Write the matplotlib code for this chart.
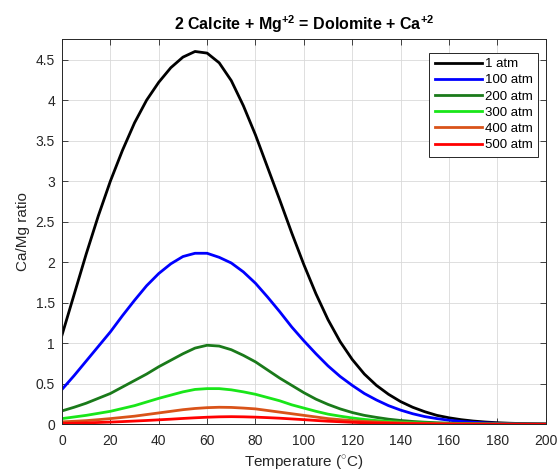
import numpy as np
import matplotlib.pyplot as plt

plt.rcParams["font.family"] = ["Liberation Sans", "DejaVu Sans"]
plt.rcParams["mathtext.fontset"] = "custom"
plt.rcParams["mathtext.rm"] = "Liberation Sans"
plt.rcParams["mathtext.bf"] = "Liberation Sans:bold"

# Temperature grid (deg C)
temperature = np.arange(0, 201, 5)

ratio_1atm = [1.10, 1.60, 2.10, 2.57, 3.00, 3.38, 3.72, 4.00, 4.22, 4.40, 4.53,
              4.60, 4.58, 4.46, 4.24, 3.93, 3.57, 3.17, 2.77, 2.36, 1.97, 1.61,
              1.29, 1.02, 0.80, 0.62, 0.48, 0.37, 0.28, 0.21, 0.155, 0.11, 0.08,
              0.057, 0.04, 0.028, 0.019, 0.013, 0.009, 0.006, 0.004]
ratio_100atm = [0.43, 0.60, 0.78, 0.96, 1.14, 1.34, 1.53, 1.71, 1.86, 1.98, 2.07,
                2.11, 2.11, 2.06, 1.99, 1.88, 1.74, 1.57, 1.39, 1.20, 1.03, 0.87,
                0.72, 0.59, 0.48, 0.38, 0.30, 0.23, 0.175, 0.13, 0.095, 0.07, 0.05,
                0.035, 0.025, 0.017, 0.012, 0.008, 0.005, 0.0035, 0.0025]
ratio_200atm = [0.165, 0.21, 0.26, 0.32, 0.38, 0.46, 0.54, 0.62, 0.71, 0.79, 0.87,
                0.94, 0.975, 0.965, 0.92, 0.85, 0.77, 0.67, 0.57, 0.48, 0.39, 0.31,
                0.245, 0.19, 0.145, 0.11, 0.085, 0.063, 0.047, 0.035, 0.026, 0.019,
                0.014, 0.01, 0.007, 0.005, 0.0035, 0.0025, 0.0018, 0.0013, 0.001]
ratio_300atm = [0.07, 0.09, 0.11, 0.135, 0.16, 0.195, 0.23, 0.275, 0.32, 0.36, 0.40,
                0.43, 0.44, 0.44, 0.425, 0.40, 0.37, 0.33, 0.29, 0.24, 0.20, 0.16,
                0.125, 0.10, 0.078, 0.06, 0.046, 0.035, 0.027, 0.02, 0.015, 0.011,
                0.008, 0.006, 0.0045, 0.0033, 0.0025, 0.0018, 0.0013, 0.001, 0.0007]
ratio_400atm = [0.03, 0.037, 0.045, 0.057, 0.07, 0.085, 0.10, 0.12, 0.14, 0.16, 0.18,
                0.195, 0.205, 0.21, 0.208, 0.20, 0.19, 0.17, 0.15, 0.13, 0.11, 0.09,
                0.07, 0.057, 0.045, 0.035, 0.028, 0.022, 0.017, 0.013, 0.01, 0.0075,
                0.0055, 0.004, 0.003, 0.0022, 0.0016, 0.0012, 0.0009, 0.0006, 0.0004]
ratio_500atm = [0.01, 0.013, 0.017, 0.022, 0.027, 0.033, 0.04, 0.047, 0.055, 0.063,
                0.072, 0.08, 0.087, 0.092, 0.094, 0.092, 0.088, 0.082, 0.075, 0.066,
                0.057, 0.047, 0.038, 0.031, 0.024, 0.019, 0.015, 0.012, 0.009, 0.007,
                0.005, 0.004, 0.003, 0.0022, 0.0016, 0.0012, 0.0009, 0.0006, 0.0004,
                0.0003, 0.0002]

labels = ["1 atm", "100 atm", "200 atm", "300 atm", "400 atm", "500 atm"]
colors = ["#000000", "#0000ff", "#1a7a1a", "#19e619", "#d95319", "#ff0000"]
series = [ratio_1atm, ratio_100atm, ratio_200atm, ratio_300atm, ratio_400atm, ratio_500atm]

gray = "#262626"

fig = plt.figure(figsize=(5.6, 4.72), dpi=100)
ax = fig.add_axes([0.1107, 0.1011, 0.8638, 0.8156])
for ratio, lab, c in zip(series, labels, colors):
    ax.plot(temperature, ratio, "-", color=c, lw=2, label=lab)

ax.set_xlim(0, 200)
ax.set_ylim(0, 4.75)
ax.set_xticks(np.arange(0, 201, 20))
yt = np.arange(0, 4.51, 0.5)
ax.set_yticks(yt)
ax.set_yticklabels(["%g" % v for v in yt])
ax.grid(True, color="#d9d9d9", lw=0.6)
ax.set_axisbelow(True)
ax.tick_params(direction="in", length=4, width=0.6, top=True, right=True,
               labelsize=10, colors=gray, pad=5)
ax.tick_params(axis="x", pad=7)
for s in ax.spines.values():
    s.set_color(gray)
    s.set_linewidth(0.7)

ax.set_xlabel(r"Temperature ($^{\circ}$C)", fontsize=11, color=gray, labelpad=4)
ax.set_ylabel("Ca/Mg ratio", fontsize=11, color=gray, labelpad=4)
ax.set_title(r"2 Calcite + Mg$^{\mathbf{+2}}$ = Dolomite + Ca$^{\mathbf{+2}}$",
             fontsize=11.5, fontweight="bold", color="black", pad=7)

leg = ax.legend(loc="upper right", bbox_to_anchor=(0.984, 0.965), fontsize=9.5,
                handlelength=3.6, handletextpad=0.2, labelspacing=0.3,
                borderpad=0.4, borderaxespad=0, fancybox=False, framealpha=1,
                edgecolor=gray)
leg.get_frame().set_linewidth(0.7)

plt.savefig("out.png", dpi=100)
